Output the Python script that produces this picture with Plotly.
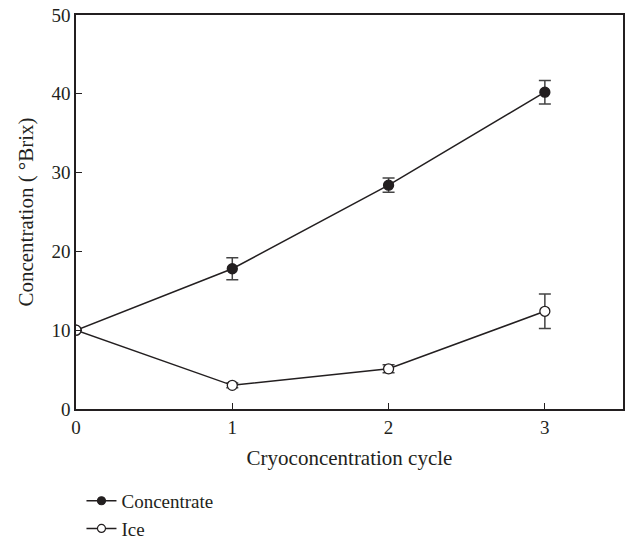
import plotly.graph_objects as go

cycles = [0, 1, 2, 3]
concentrate = [10.0, 17.8, 28.4, 40.2]
concentrate_err = [0.0, 1.4, 0.9, 1.5]
ice = [10.0, 3.0, 5.1, 12.4]
ice_err = [0.0, 0.3, 0.5, 2.2]
series_names = ["Concentrate", "Ice"]

FONT = "Liberation Serif, Times New Roman, serif"
INK = "#231f20"
FILLS = [INK, "white"]

fig = go.Figure()
for name, ys, errs, fill in [(series_names[0], concentrate, concentrate_err, FILLS[0]),
                             (series_names[1], ice, ice_err, FILLS[1])]:
    fig.add_trace(go.Scatter(
        x=cycles, y=ys, name=name, mode="lines+markers", showlegend=False,
        line=dict(color=INK, width=1.5),
        marker=dict(symbol="circle", size=10, color=fill, line=dict(color=INK, width=1.3)),
        error_y=dict(type="data", array=errs, visible=True, color="#444", thickness=1.5, width=6),
    ))
# legend-only entries with smaller symbols, as in the reference
for name, fill in zip(series_names, FILLS):
    fig.add_trace(go.Scatter(
        x=[None], y=[None], name=name, mode="lines+markers", showlegend=True,
        line=dict(color=INK, width=1.5),
        marker=dict(symbol="circle", size=8, color=fill, line=dict(color=INK, width=1.2)),
    ))

fig.update_layout(
    width=626, height=539,
    margin=dict(l=76, r=3, t=15, b=130, autoexpand=False),
    paper_bgcolor="white", plot_bgcolor="white",
    font=dict(family=FONT, size=19, color=INK),
    showlegend=True,
    legend=dict(x=0.01, y=-0.185, xanchor="left", yanchor="top",
                orientation="v", font=dict(family=FONT, size=19, color=INK),
                bgcolor="rgba(0,0,0,0)", tracegroupgap=0, itemwidth=30),
    xaxis=dict(
        range=[0, 3.5], tickvals=[0, 1, 2, 3], ticktext=["0", "1", "2", "3"],
        ticks="inside", ticklen=6, tickwidth=1, tickcolor=INK,
        tickfont=dict(family=FONT, size=19, color=INK),
        showline=True, linecolor=INK, linewidth=1.5, mirror=True,
        showgrid=False, zeroline=False,
        title=dict(text="Cryoconcentration cycle", standoff=14,
                   font=dict(family=FONT, size=21, color=INK)),
    ),
    yaxis=dict(
        range=[0, 50], tickvals=[0, 10, 20, 30, 40, 50],
        ticks="inside", ticklen=6, tickwidth=1, tickcolor=INK,
        tickfont=dict(family=FONT, size=19, color=INK),
        showline=True, linecolor=INK, linewidth=1.5, mirror=True,
        showgrid=False, zeroline=False,
        title=dict(text="Concentration ( °Brix)", standoff=12,
                   font=dict(family=FONT, size=21, color=INK)),
    ),
)

post = (
    "document.documentElement.style.margin='0';"
    "document.body.style.margin='0';document.body.style.padding='0';"
    "document.body.style.overflow='hidden';"
    "var gd=document.getElementById('{plot_id}');"
    "Plotly.relayout(gd,{width:626,height:539});"
)

fig.write_html("out.html", post_script=post, config={"displayModeBar": False})
